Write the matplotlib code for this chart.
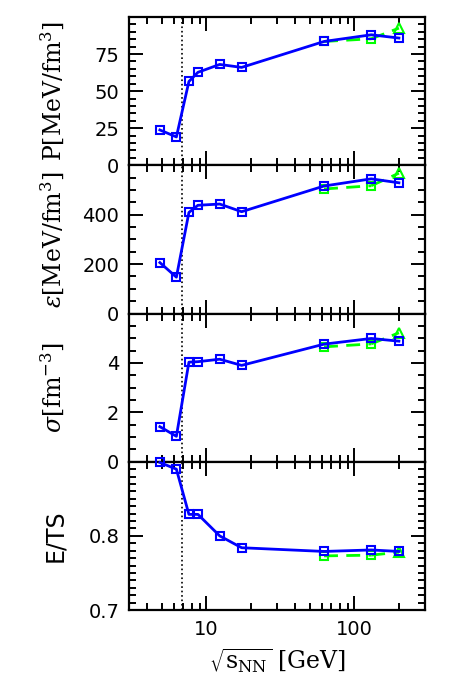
import numpy as np
import matplotlib
matplotlib.use('Agg')
import matplotlib.pyplot as plt
from matplotlib.ticker import MultipleLocator, FixedLocator, NullFormatter

plt.rcParams['mathtext.fontset'] = 'dejavuserif'

# collision energies sqrt(s_NN) in GeV
energy = [4.85, 6.27, 7.62, 8.77, 12.3, 17.3, 62.4, 130.0, 200.0]
energy_alt = [62.4, 130.0, 200.0]
critical_energy = 6.8

# blue: full set, green: alternative RHIC fits
pressure = [23.8, 19.1, 56.5, 62.7, 68.0, 66.0, 83.5, 88.0, 85.8]
pressure_alt = [83.5, 85.3, 92.5]
energy_density = [206, 147, 409, 438, 443, 412, 516, 545, 529]
energy_density_alt = [504, 517, 568]
entropy_density = [1.42, 1.03, 4.03, 4.05, 4.15, 3.90, 4.76, 4.99, 4.88]
entropy_density_alt = [4.65, 4.77, 5.22]
e_over_ts = [0.899, 0.890, 0.829, 0.829, 0.800, 0.784, 0.779, 0.781, 0.779]
e_over_ts_alt = [0.773, 0.774, 0.778]

panels = [
    (pressure, pressure_alt, r'P[MeV/fm$^3$]', (0, 100), 5, [0, 25, 50, 75], ['0', '25', '50', '75']),
    (energy_density, energy_density_alt, r'$\varepsilon$[MeV/fm$^3$]', (0, 600), 50, [0, 200, 400], ['0', '200', '400']),
    (entropy_density, entropy_density_alt, r'$\sigma$[fm$^{-3}$]', (0, 6), 0.5, [0, 2, 4], ['0', '2', '4']),
    (e_over_ts, e_over_ts_alt, 'E/TS', (0.7, 0.9), 0.01, [0.7, 0.8], ['0.7', '0.8']),
]

fig = plt.figure(figsize=(4.63, 6.96), dpi=100)
left, width = 129 / 463, 296 / 463
top, height = 1 - 17 / 696, 148.25 / 696

for i, (vals, vals_alt, label, ylim, minor, ticks, ticklabels) in enumerate(panels):
    ax = fig.add_axes([left, top - (i + 1) * height, width, height])
    ax.set_xscale('log')
    ax.set_xlim(3, 300)
    ax.set_ylim(*ylim)

    ax.axvline(critical_energy, color='black', linestyle=':', linewidth=1.2, zorder=1)

    ax.plot(energy_alt[:2], vals_alt[:2], color='#00ff00', linestyle='--', linewidth=2,
            marker='s', markersize=5.5, markerfacecolor='none', markeredgewidth=1.5,
            dashes=(5, 3), zorder=2)
    ax.plot(energy_alt[1:], vals_alt[1:], color='#00ff00', linestyle='--', linewidth=2,
            dashes=(5, 3), zorder=2)
    ax.plot(energy_alt[2:], vals_alt[2:], color='#00ff00', linestyle='none',
            marker='^', markersize=7, markerfacecolor='none', markeredgewidth=1.5,
            zorder=2, clip_on=False)
    ax.plot(energy, vals, color='#0000ff', linewidth=2,
            marker='s', markersize=5.5, markerfacecolor='none', markeredgewidth=1.5,
            zorder=3, clip_on=False)

    # top tick gets major length but no label
    ax.set_yticks(ticks + [ylim[1]], labels=ticklabels + [''])
    ax.yaxis.set_minor_locator(MultipleLocator(minor))

    ax.set_xticks([10, 100])
    ax.xaxis.set_minor_locator(FixedLocator([3, 4, 5, 6, 7, 8, 9, 20, 30, 40, 50, 60, 70, 80, 90, 200, 300]))
    ax.xaxis.set_minor_formatter(NullFormatter())
    if i < 3:
        ax.set_xticklabels([])
    else:
        ax.set_xticklabels(['10', '100'])
        ax.set_xlabel(r'$\sqrt{\mathrm{s_{NN}}}$ [GeV]', fontsize=17, family='DejaVu Serif', labelpad=6)

    ax.tick_params(which='both', direction='in', top=True, right=True, width=1.4, labelsize=14)
    ax.tick_params(which='major', length=10, pad=7)
    ax.tick_params(which='minor', length=5)
    for sp in ax.spines.values():
        sp.set_linewidth(1.6)

    ax.set_ylabel(label, fontsize=17, family='DejaVu Serif' if i < 3 else 'DejaVu Sans')
    ax.yaxis.set_label_coords(-0.21, 0.5)

fig.savefig('out.png', dpi=100)
